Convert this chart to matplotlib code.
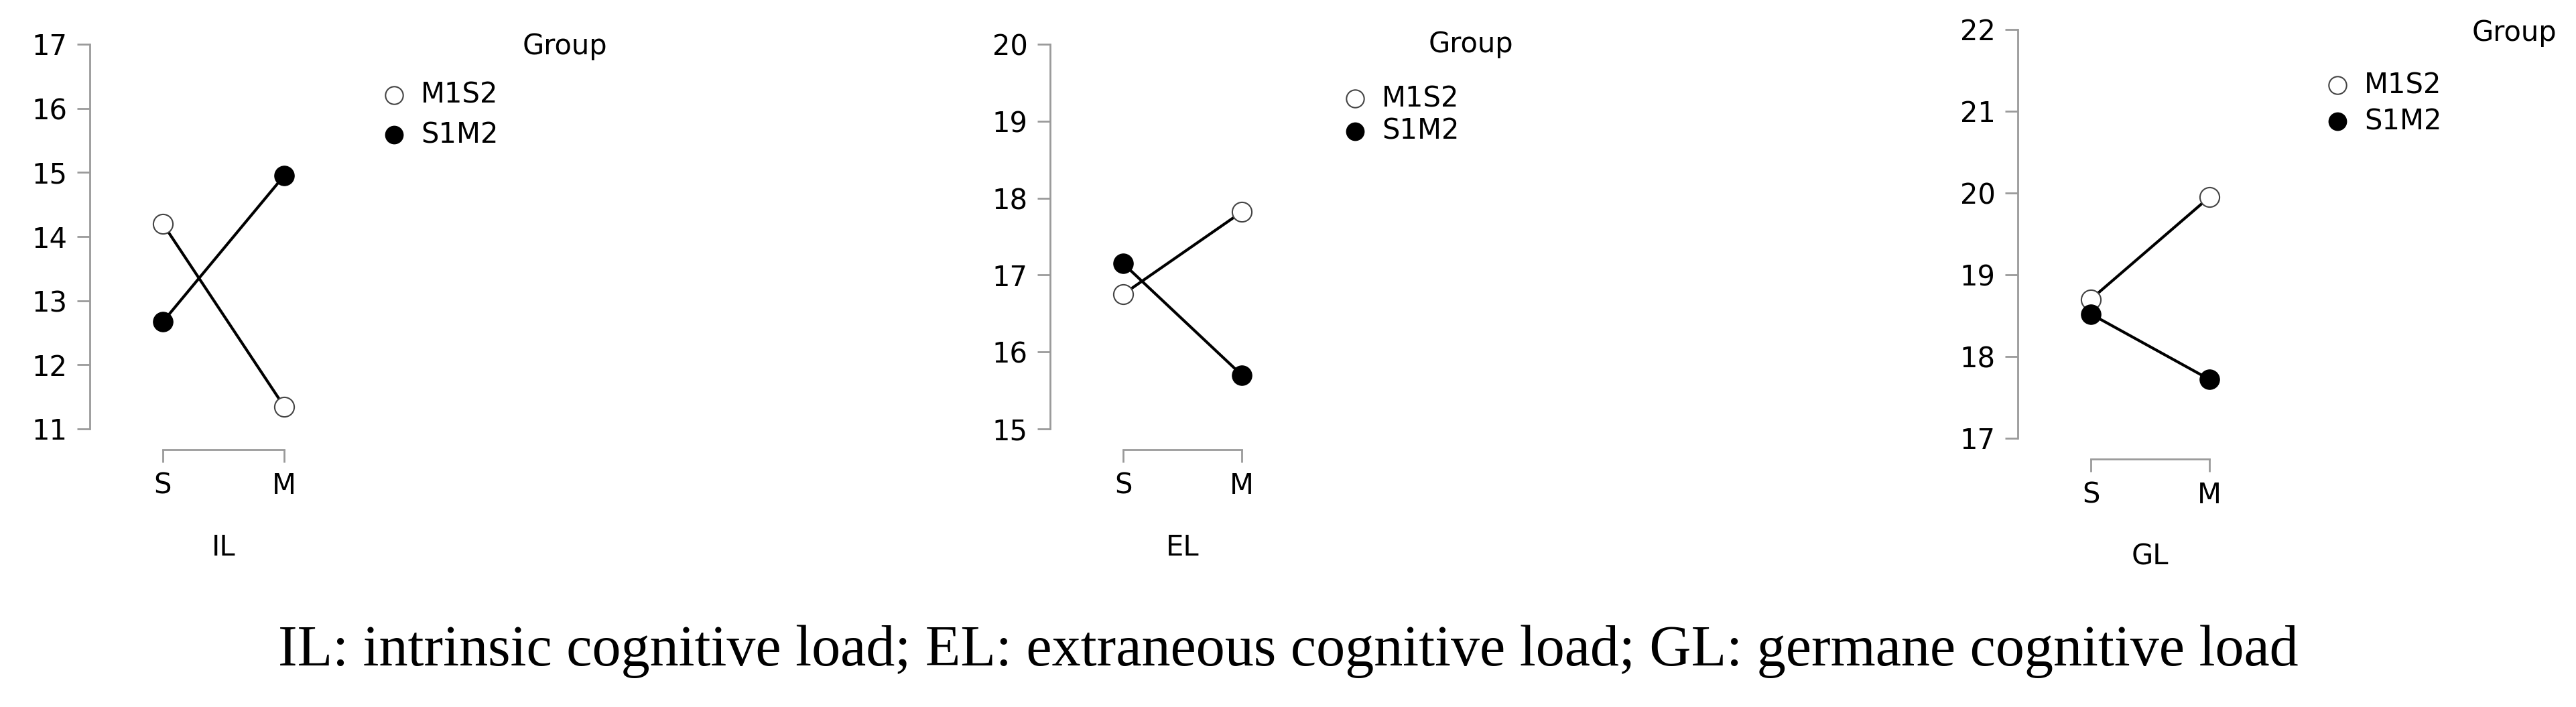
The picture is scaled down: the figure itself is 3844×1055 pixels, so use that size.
import matplotlib.pyplot as plt
from matplotlib.lines import Line2D

W, H = 3844, 1055
levels = ["S", "M"]
groups = ["M1S2", "S1M2"]
il_m1s2 = [14.2, 11.35]
il_s1m2 = [12.67, 14.95]
el_m1s2 = [16.75, 17.82]
el_s1m2 = [17.15, 15.7]
gl_m1s2 = [18.7, 19.95]
gl_s1m2 = [18.52, 17.72]

panels = [
    # name, series, ylim, axis x, S x, M x, y top, y bottom, legend marker x, legend y1, y2, group x, group y (pixels)
    ("IL", il_m1s2, il_s1m2, (11, 17), 134, 243, 424, 66, 640, 588, 142, 201, 780, 69),
    ("EL", el_m1s2, el_s1m2, (15, 20), 1567, 1676, 1853, 66, 640, 2022, 147, 196, 2132, 66),
    ("GL", gl_m1s2, gl_s1m2, (17, 22), 3011, 3120, 3297, 44, 654, 3488, 127, 181, 3689, 49),
]

fig = plt.figure(figsize=(W / 100, H / 100), dpi=100)
fs = 30
gray = "#9a9a9a"

ov = fig.add_axes([0, 0, 1, 1], zorder=5)
ov.set_xlim(0, W)
ov.set_ylim(H, 0)
ov.axis("off")

for name, a, b, ylim, axx, sx, mx, yt, yb, lmx, ly1, ly2, gx, gy in panels:
    unit = mx - sx
    x0 = -(sx - axx) / unit
    x1 = 2.2
    right = sx + x1 * unit
    ax = fig.add_axes([axx / W, 1 - yb / H, (right - axx) / W, (yb - yt) / H])
    ax.set_xlim(x0, x1)
    ax.set_ylim(*ylim)
    ax.plot([0, 1], a, color="black", lw=3, marker="o", ms=21, mfc="white", mec="#444444", mew=1.5, zorder=3)
    ax.plot([0, 1], b, color="black", lw=3, marker="o", ms=21, mfc="black", mec="black", zorder=3)
    ax.set_xticks([0, 1])
    ax.set_xticklabels(levels)
    ax.set_yticks(range(ylim[0], ylim[1] + 1))
    for s in ["top", "right"]:
        ax.spines[s].set_visible(False)
    ax.spines["left"].set_bounds(*ylim)
    ax.spines["bottom"].set_bounds(0, 1)
    ax.spines["bottom"].set_position(("outward", 22))
    for s in ["left", "bottom"]:
        ax.spines[s].set_color(gray)
        ax.spines[s].set_linewidth(2)
    ax.tick_params(colors=gray, labelcolor="black", labelsize=fs, length=14, width=2, pad=10)
    ax.set_xlabel(name, fontsize=fs, labelpad=36)
    ax.xaxis.label.set_position(((0.5 - x0) / (x1 - x0), 0))
    ax.patch.set_visible(False)

    ov.text(gx, gy, "Group", fontsize=fs, va="center", ha="left")
    ov.add_line(Line2D([lmx], [ly1], marker="o", ms=19, mfc="white", mec="#444444", mew=1.5, ls="none"))
    ov.add_line(Line2D([lmx], [ly2], marker="o", ms=19, mfc="black", mec="black", ls="none"))
    ov.text(lmx + 40, ly1, groups[0], fontsize=fs, va="center", ha="left")
    ov.text(lmx + 40, ly2, groups[1], fontsize=fs, va="center", ha="left")

fig.text(0.5, 1 - 972 / H,
         "IL: intrinsic cognitive load; EL: extraneous cognitive load; GL: germane cognitive load",
         ha="center", va="center", fontsize=62, family=["Liberation Serif", "DejaVu Serif"])
fig.savefig("out.png", dpi=100)
